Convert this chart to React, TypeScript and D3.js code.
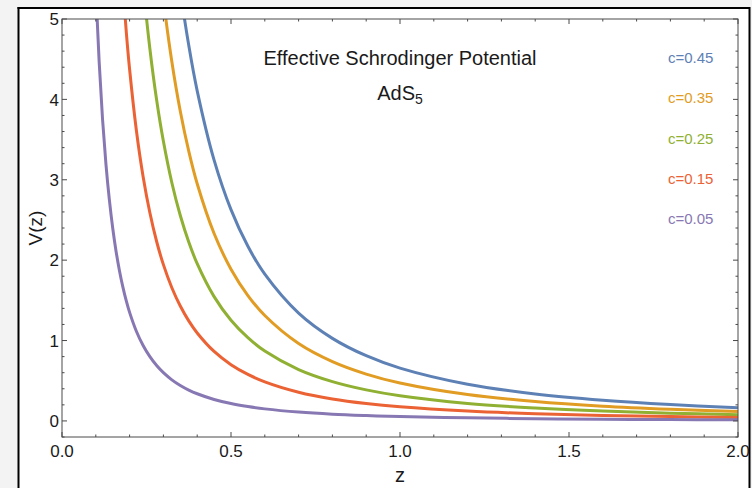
import React from "react";
import * as d3 from "d3";

// Sample positions along z shared by every curve
const zGrid = [
  0.1, 0.11, 0.12, 0.13, 0.14, 0.15, 0.16, 0.17, 0.18, 0.19, 0.2, 0.22, 0.24, 0.26, 0.28, 0.3,
  0.325, 0.35, 0.375, 0.4, 0.45, 0.5, 0.55, 0.6, 0.7, 0.8, 0.9, 1.0, 1.2, 1.4, 1.6, 1.8, 2.0,
];

// V(z) for each value of c (null where the curve is far above the frame)
const vC005 = [
  5.4, 4.463, 3.75, 3.195, 2.755, 2.4, 2.109, 1.869, 1.667, 1.496, 1.35, 1.116, 0.938, 0.799,
  0.689, 0.6, 0.511, 0.441, 0.384, 0.338, 0.267, 0.216, 0.179, 0.15, 0.11, 0.084, 0.067, 0.054,
  0.038, 0.028, 0.021, 0.017, 0.014,
];
const vC015 = [
  null, null, null, null, null, null, null, 6.055, 5.401, 4.848, 4.375, 3.616, 3.038, 2.589,
  2.232, 1.944, 1.657, 1.429, 1.244, 1.094, 0.864, 0.7, 0.579, 0.486, 0.357, 0.273, 0.216,
  0.175, 0.122, 0.089, 0.068, 0.054, 0.044,
];
const vC025 = [
  null, null, null, null, null, null, null, null, null, null, null, 6.467, 5.434, 4.63, 3.992,
  3.478, 2.963, 2.555, 2.226, 1.956, 1.546, 1.252, 1.035, 0.869, 0.639, 0.489, 0.386, 0.313,
  0.217, 0.16, 0.122, 0.097, 0.078,
];
const vC035 = [
  null, null, null, null, null, null, null, null, null, null, null, null, null, null, 6.02,
  5.244, 4.469, 3.853, 3.356, 2.95, 2.331, 1.888, 1.56, 1.311, 0.963, 0.738, 0.583, 0.472, 0.328,
  0.241, 0.184, 0.146, 0.118,
];
const vC045 = [
  null, null, null, null, null, null, null, null, null, null, null, null, null, null, null, null,
  6.22, 5.363, 4.672, 4.106, 3.244, 2.628, 2.172, 1.825, 1.341, 1.027, 0.811, 0.657, 0.456,
  0.335, 0.257, 0.203, 0.164,
];

const seriesNames = ["c=0.45", "c=0.35", "c=0.25", "c=0.15", "c=0.05"];
const seriesValues = [vC045, vC035, vC025, vC015, vC005];
const seriesColors = ["#5e81b5", "#e19c24", "#8fb032", "#eb6235", "#8778b3"];

const xTicks = [0, 0.5, 1.0, 1.5, 2.0];
const xTickLabels = ["0.0", "0.5", "1.0", "1.5", "2.0"];
const yTicks = [0, 1, 2, 3, 4, 5];
const yTickLabels = ["0", "1", "2", "3", "4", "5"];

const W = 752;
const H = 488;
const plot = { left: 62, right: 738, top: 19, bottom: 437 };
const FONT = "'Liberation Sans', Arial, Helvetica, sans-serif";
const AXIS = "#4a4a4a";

export default function App() {
  const x = d3.scaleLinear().domain([0, 2]).range([plot.left, plot.right]);
  const y = d3.scaleLinear().domain([-0.2, 5]).range([plot.bottom, plot.top]);

  const line = d3
    .line<[number, number | null]>()
    .defined((d) => d[1] !== null)
    .x((d) => x(d[0]))
    .y((d) => y(d[1] as number))
    .curve(d3.curveCatmullRom.alpha(0.5));

  const xMinor = d3.range(0, 2.0001, 0.1);
  const yMinor = d3.range(-0.2, 5.0001, 0.2);
  const isMajor = (v: number, step: number) => Math.abs(v / step - Math.round(v / step)) < 1e-6;

  return (
    <svg
      width={W}
      height={H}
      style={{ position: "absolute", left: 0, top: 0, display: "block" }}
      fontFamily={FONT}
    >
      <rect x={0} y={0} width={W} height={H} fill="#f3f3f3" />
      <rect x={19} y={8} width={730} height={H} fill="#ffffff" />
      {/* window frame */}
      <line x1={18.5} y1={7} x2={18.5} y2={H} stroke="#000" strokeWidth={2} />
      <line x1={17.5} y1={8} x2={750} y2={8} stroke="#000" strokeWidth={2} />
      <line x1={749.5} y1={7} x2={749.5} y2={H} stroke="#000" strokeWidth={2} />

      <defs>
        <clipPath id="plot-clip">
          <rect
            x={plot.left}
            y={plot.top}
            width={plot.right - plot.left}
            height={plot.bottom - plot.top}
          />
        </clipPath>
      </defs>

      {/* curves */}
      <g clipPath="url(#plot-clip)">
        {seriesValues.map((vals, i) => (
          <path
            key={seriesNames[i]}
            d={line(zGrid.map((z, j) => [z, vals[j]] as [number, number | null])) || ""}
            fill="none"
            stroke={seriesColors[i]}
            strokeWidth={3}
            strokeLinejoin="round"
          />
        ))}
      </g>

      {/* frame box */}
      <rect
        x={plot.left}
        y={plot.top}
        width={plot.right - plot.left}
        height={plot.bottom - plot.top}
        fill="none"
        stroke={AXIS}
        strokeWidth={1}
      />

      {/* x ticks, bottom and top */}
      {xMinor.map((v) => {
        const len = isMajor(v, 0.5) ? 5 : 2.5;
        const px = x(v);
        return (
          <g key={"xt" + v} stroke={AXIS} strokeWidth={1}>
            <line x1={px} x2={px} y1={plot.bottom} y2={plot.bottom - len} />
            <line x1={px} x2={px} y1={plot.top} y2={plot.top + len} />
          </g>
        );
      })}
      {/* y ticks, left and right */}
      {yMinor.map((v) => {
        const len = isMajor(v, 1) ? 5 : 2.5;
        const py = y(v);
        return (
          <g key={"yt" + v.toFixed(2)} stroke={AXIS} strokeWidth={1}>
            <line x1={plot.left} x2={plot.left + len} y1={py} y2={py} />
            <line x1={plot.right} x2={plot.right - len} y1={py} y2={py} />
          </g>
        );
      })}

      {/* tick labels */}
      {xTicks.map((v, i) => (
        <text key={"xl" + v} x={x(v)} y={457} textAnchor="middle" fontSize={17} fill="#1a1a1a">
          {xTickLabels[i]}
        </text>
      ))}
      {yTicks.map((v, i) => (
        <text
          key={"yl" + v}
          x={59}
          y={y(v)}
          dy="0.36em"
          textAnchor="end"
          fontSize={17}
          fill="#1a1a1a"
        >
          {yTickLabels[i]}
        </text>
      ))}

      {/* axis titles */}
      <text x={400} y={482} textAnchor="middle" fontSize={20} fill="#1a1a1a">
        z
      </text>
      <text
        transform="translate(42,228) rotate(-90)"
        textAnchor="middle"
        fontSize={19}
        fill="#1a1a1a"
      >
        V(z)
      </text>

      {/* plot title */}
      <text x={400} y={65} textAnchor="middle" fontSize={20} fill="#1a1a1a">
        Effective Schrodinger Potential
      </text>
      <text x={400} y={100} textAnchor="middle" fontSize={20} fill="#1a1a1a">
        AdS
        <tspan fontSize={14} dy={4}>
          5
        </tspan>
      </text>

      {/* series labels */}
      {seriesNames.map((name, i) => (
        <text
          key={"lg" + name}
          x={668}
          y={63 + i * 40.3}
          fontSize={15}
          fill={seriesColors[i]}
        >
          {name}
        </text>
      ))}
    </svg>
  );
}
